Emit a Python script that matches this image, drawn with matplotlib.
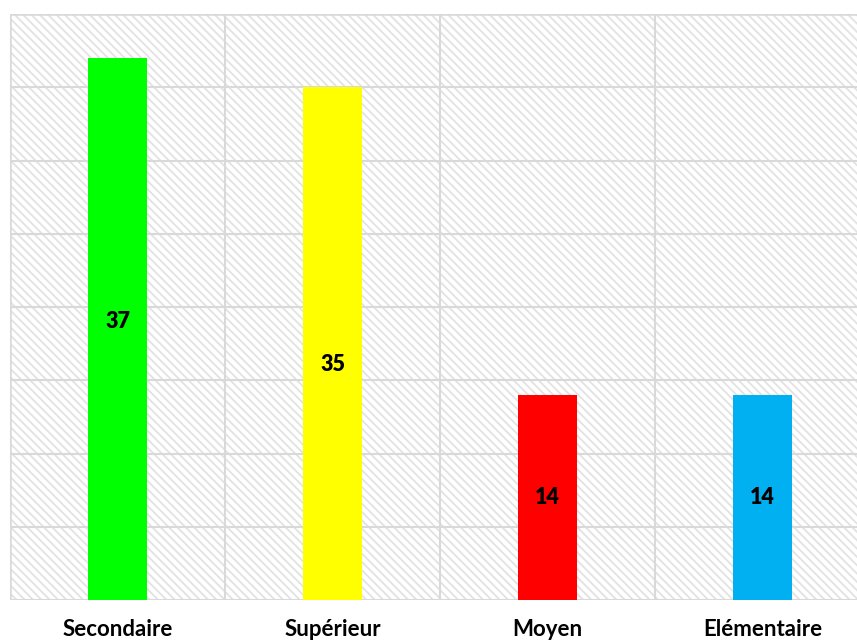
import matplotlib
matplotlib.use("Agg")
import matplotlib.pyplot as plt
from matplotlib.patches import Rectangle

# niveau d'instruction
categories = ["Secondaire", "Supérieur", "Moyen", "Elémentaire"]
values = [37, 35, 14, 14]
label_heights = [19.0, 16.1, 7.0, 7.0]
colors = ["#00ff00", "#ffff00", "#ff0000", "#00b0f0"]

plt.rcParams["hatch.linewidth"] = 1.3

fig = plt.figure(figsize=(8.57, 6.40), dpi=100)
ax = fig.add_axes([10 / 857, 40 / 640, 860 / 857, 586 / 640])

# hatched plot-area background
ax.add_patch(Rectangle((0, 0), 1, 1, transform=ax.transAxes, facecolor="white",
                       edgecolor="#e2e2e2", linewidth=0, hatch="\\\\\\\\", zorder=0))

x = range(len(categories))
ax.bar(x, values, width=0.275, color=colors, zorder=3)
for xi, v, h in zip(x, values, label_heights):
    ax.text(xi, h, str(v), ha="center", va="center", fontsize=15.5,
            fontweight="heavy", family="Lato", zorder=4)

ax.set_xlim(-0.5, 3.5)
ax.set_ylim(0, 40)
ax.set_yticks(range(0, 41, 5))
ax.set_xticks([0.5, 1.5, 2.5], minor=False)
ax.grid(True, color="#d9d9d9", linewidth=1.5, zorder=1)
ax.tick_params(length=0, labelleft=False, labelbottom=False)
for s in ax.spines.values():
    s.set_visible(False)
ax.axhline(0, color="#d9d9d9", linewidth=1.8, zorder=2)
ax.axvline(-0.5, color="#d9d9d9", linewidth=1.8, zorder=2)
ax.axhline(40, color="#d9d9d9", linewidth=1.8, zorder=2)

for xi, name in zip(x, categories):
    ax.text(xi, -0.051, name, transform=ax.get_xaxis_transform(), ha="center",
            va="center", fontsize=16, fontweight="bold", family="Lato")

fig.savefig("out.png", dpi=100)
